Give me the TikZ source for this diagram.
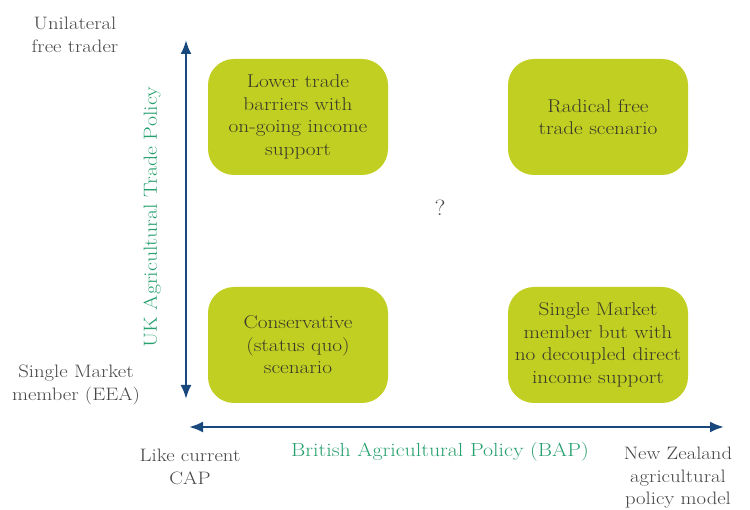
\documentclass[tikz,border=0pt]{standalone}
\usepackage{fontspec}
\setmainfont{Latin Modern Roman}[FakeStretch=1.15]
\usetikzlibrary{arrows.meta}
\definecolor{boxfill}{RGB}{193,207,34}
\definecolor{boxtext}{RGB}{58,58,40}
\definecolor{arrowblue}{RGB}{25,72,125}
\definecolor{labgreen}{RGB}{38,160,110}
\definecolor{labgray}{RGB}{70,70,70}
\begin{document}
\begin{tikzpicture}[x=1pt,y=-1pt,
  scen/.style={fill=boxfill,rounded corners=26pt,minimum width=180pt,minimum height=116pt,
    text=boxtext,align=center,font=\fontsize{18.5}{22.5}\selectfont,inner sep=0pt},
  axlab/.style={text=labgray,align=center,font=\fontsize{18}{22.5}\selectfont,inner sep=0pt},
  axtitle/.style={text=labgreen,font=\fontsize{19}{23}\selectfont,inner sep=0pt},
  axarrow/.style={draw=arrowblue,line width=2.4pt,{Latex[length=14pt,width=11pt]}-{Latex[length=14pt,width=11pt]}}]
\useasboundingbox (0,0) rectangle (750,510);
\node[scen] (tl) at (298,117) {Lower trade\\barriers with\\on-going income\\support};
\node[scen] (tr) at (598,117) {Radical free\\trade scenario};
\node[scen] (bl) at (298,345) {Conservative\\(status quo)\\scenario};
\node[scen] (br) at (598,345) {Single Market\\member but with\\no decoupled direct\\income support};
\node[axlab,font=\fontsize{22}{22}\selectfont] (q) at (440,208) {?};
\coordinate (vtop) at (186,40);
\coordinate (vbot) at (186,399);
\coordinate (hl) at (189,427);
\coordinate (hr) at (724,427);
\draw[axarrow] (vtop) -- (vbot);
\draw[axarrow] (hl) -- (hr);
\node[axlab] (uft) at (75,35) {Unilateral\\free trader};
\node[axlab] (sme) at (76,385) {Single Market\\member (EEA)};
\node[axlab] (cap) at (190,467) {Like current\\CAP};
\node[axlab] (nz) at (678,478) {New Zealand\\agricultural\\policy model};
\node[axtitle] (bap) at (440,452) {British Agricultural Policy (BAP)};
\node[axtitle,rotate=90] (ukt) at (152,217) {UK Agricultural Trade Policy};
\end{tikzpicture}
\end{document}
